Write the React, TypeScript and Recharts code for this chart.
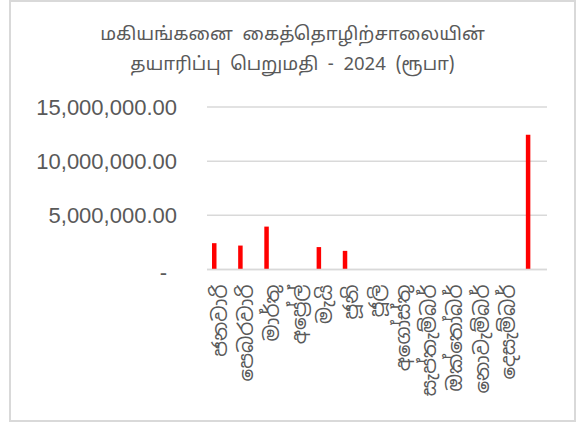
import { BarChart, Bar, XAxis, YAxis, CartesianGrid } from 'recharts';

const months = [
  'ජනවාරි', 'පෙබරවාරි', 'මාර්තු', 'අප්‍රේල්', 'මැයි', 'ජූනි',
  'ජූලි', 'අගෝස්තු', 'සැප්තැම්බර්', 'ඔක්තෝබර්', 'නොවැම්බර්', 'දෙසැම්බර්', '',
];
// last column is the yearly total (no label shown)
const values = [
  2430000, 2210000, 3960000, 0, 2070000, 1720000,
  0, 0, 0, 0, 0, 0, 12450000,
];
const yTicks = [0, 5000000, 10000000, 15000000];
const titleLines = ['மகியங்கனை  கைத்தொழிற்சாலையின்', 'தயாரிப்பு  பெறுமதி  -  2024  (ரூபா)'];

const data = months.map((m, i) => ({ month: m, value: values[i] }));

const textColor = '#595959';
const sinhalaFont = '"Noto Sans Sinhala", "Noto Serif Sinhala", "Iskoola Pota", "Noto Sans", sans-serif';
const tamilFont = '"Noto Sans Tamil", "Latha", "Noto Sans", sans-serif';

const ValueTick = (props: any) => {
  const { x, y, payload } = props;
  if (payload.value === 0) {
    return (
      <text x={x - 10} y={y + 3} textAnchor="end" dominantBaseline="central" fill={textColor}
        fontSize={22} fontFamily='"Liberation Sans", Arial, sans-serif'>-</text>
    );
  }
  const label = payload.value.toLocaleString('en-US', { minimumFractionDigits: 2, maximumFractionDigits: 2 });
  return (
    <text x={x} y={y} textAnchor="end" dominantBaseline="central" fill={textColor}
      fontSize={22} fontFamily='"Liberation Sans", Arial, sans-serif'>{label}</text>
  );
};

// labels read bottom-to-top, hanging down from the axis
const MonthTick = (props: any) => {
  const { x, y, payload } = props;
  const cx = x + 6;
  const cy = y + 15;
  return (
    <text x={cx} y={cy} transform={`rotate(-90 ${cx} ${cy})`} textAnchor="end" dominantBaseline="central"
      fill={textColor} fontSize={20} fontFamily={sinhalaFont}>{payload.value}</text>
  );
};

export default function App() {
  return (
    <div style={{ position: 'absolute', left: 0, top: 0, width: 587, height: 427, background: '#fff' }}>
      <div style={{
        position: 'absolute', left: 9, top: 0, width: 567, height: 422, boxSizing: 'border-box',
        border: '2px solid #d9d9d9',
      }} />
      <div style={{
        position: 'absolute', left: 10, top: 21, width: 565, textAlign: 'center', color: textColor,
        fontFamily: tamilFont, fontSize: 18.5, lineHeight: '30px', whiteSpace: 'pre',
      }}>
        {titleLines.map((t) => <div key={t}>{t}</div>)}
      </div>
      <div style={{ position: 'absolute', left: 0, top: 0 }}>
        <BarChart width={587} height={427} data={data} margin={{ top: 107, right: 40, left: 0, bottom: 0 }}>
          <CartesianGrid vertical={false} stroke="#d9d9d9" strokeWidth={1.5} />
          <XAxis dataKey="month" interval={0} height={157.5} padding={{ left: -6, right: 6 }}
            axisLine={{ stroke: '#d9d9d9', strokeWidth: 1.5 }} tickLine={false} tickSize={0} tickMargin={0}
            tick={<MonthTick />} />
          <YAxis width={207} domain={[0, 15000000]} ticks={yTicks} axisLine={false} tickLine={false}
            tickSize={0} tickMargin={30} tick={<ValueTick />} />
          <Bar dataKey="value" fill="#ff0000" barSize={4.5} isAnimationActive={false} />
        </BarChart>
      </div>
    </div>
  );
}
